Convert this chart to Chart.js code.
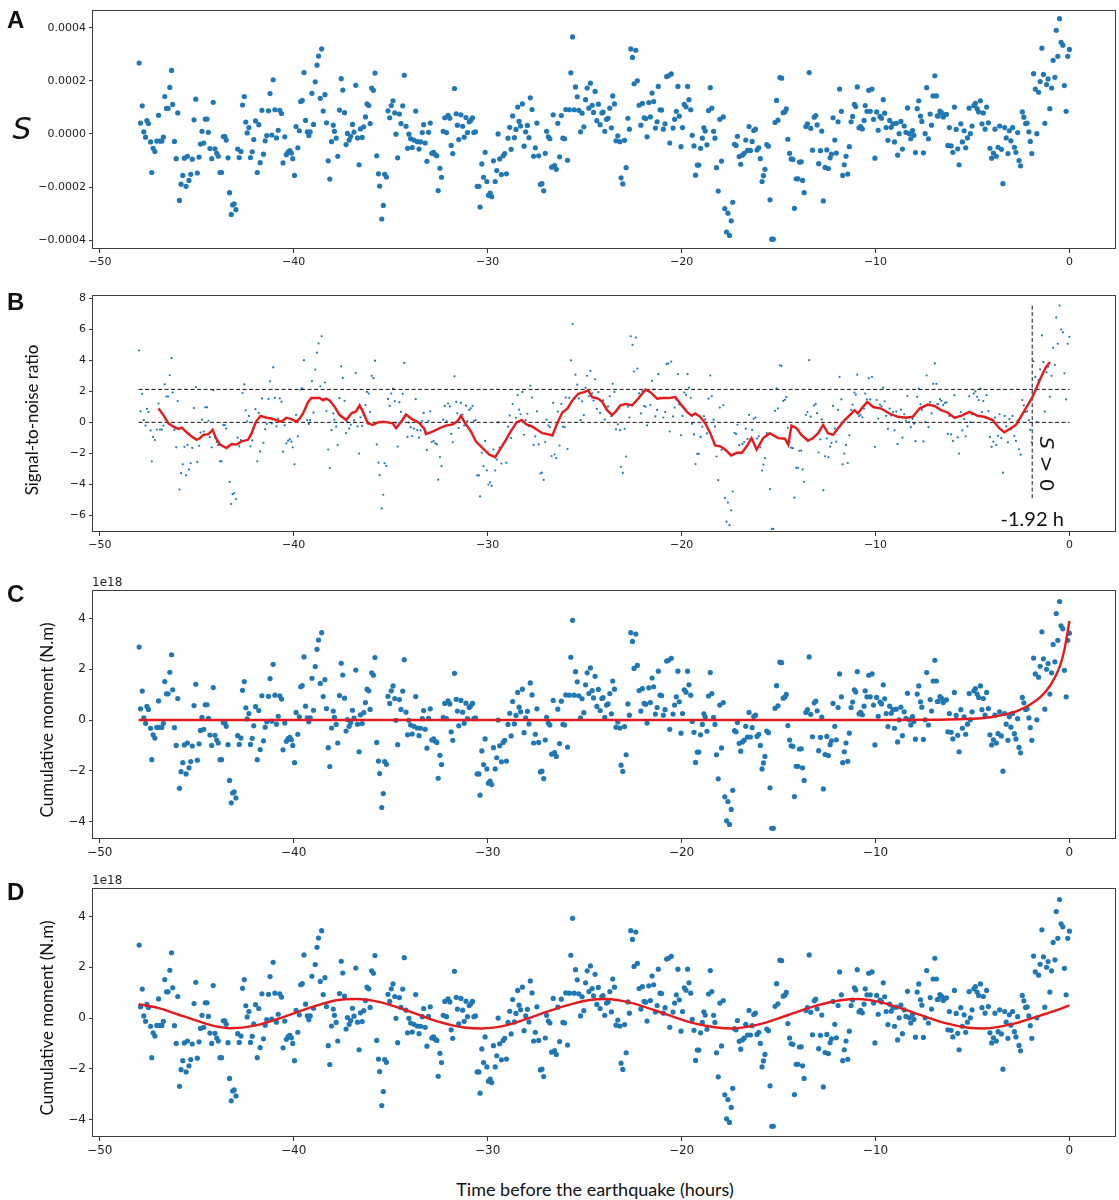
<!DOCTYPE html>
<html>
<head>
<meta charset="utf-8">
<script src="https://cdn.jsdelivr.net/npm/chart.js@4.4.1/dist/chart.umd.min.js"></script>
<style>
  body { margin: 0; background: #fff; }
  #page { position: relative; width: 1119px; height: 1200px; overflow: hidden; }
  canvas { position: absolute; left: 0; }
  .txt { position: absolute; white-space: nowrap; color: #111; line-height: 1; }
  .c { transform: translate(-50%, -50%); }
  .rot { transform: translate(-50%, -50%) rotate(-90deg); }
  .letter { font: bold 24px "Liberation Sans Narrow", "Liberation Sans", sans-serif; }
  .ylab { font-family: Lato, "Open Sans", sans-serif; font-size: 17px; }
  .offset { font-family: "DejaVu Sans", sans-serif; font-size: 12px; color: #222; }
</style>
</head>
<body>
<div id="page">
  <canvas id="panelA" width="1119" height="280" style="top:0px"></canvas>
  <canvas id="panelB" width="1119" height="280" style="top:285px"></canvas>
  <canvas id="panelC" width="1119" height="290" style="top:580px"></canvas>
  <canvas id="panelD" width="1119" height="290" style="top:878px"></canvas>

  <div class="txt letter" style="left:7px;top:6px">A</div>
  <div class="txt letter" style="left:7px;top:288px">B</div>
  <div class="txt letter" style="left:7px;top:580px">C</div>
  <div class="txt letter" style="left:7px;top:878px">D</div>

  <div class="txt c" style="left:22px;top:128px;font:italic 30px 'DejaVu Sans',sans-serif">S</div>
  <div class="txt rot ylab" style="left:31px;top:420px">Signal-to-noise ratio</div>
  <div class="txt rot ylab" style="left:46px;top:720px">Cumulative moment (N.m)</div>
  <div class="txt rot ylab" style="left:46px;top:1018px">Cumulative moment (N.m)</div>

  <div class="txt offset" style="left:92px;top:576px">1e18</div>
  <div class="txt offset" style="left:92px;top:874px">1e18</div>

  <div class="txt c" style="left:595px;top:1189px;font:18px Lato,sans-serif">Time before the earthquake (hours)</div>

  <div id="onsetLabel" class="txt c" style="font:20px Lato,sans-serif">-1.92 h</div>
  <div id="onsetSign" class="txt" style="font:20px 'DejaVu Sans',sans-serif;transform:translate(-50%,-50%) rotate(90deg)"><i>S</i> &gt; 0</div>
</div>

<script>
// ---- time of each sample (hours before the earthquake) ----
const sHours = [
  -47.97,-47.90,-47.81,-47.73,-47.64,-47.57,-47.49,-47.38,-47.32,-47.25,
  -47.16,-47.06,-46.97,-46.90,-46.80,-46.72,-46.65,-46.56,-46.48,-46.39,
  -46.30,-46.24,-46.15,-46.06,-45.98,-45.89,-45.81,-45.72,-45.64,-45.55,
  -45.48,-45.40,-45.31,-45.23,-45.14,-45.05,-44.97,-44.88,-44.81,-44.73,
  -44.64,-44.56,-44.47,-44.40,-44.32,-44.23,-44.15,-44.06,-43.97,-43.89,
  -43.80,-43.72,-43.63,-43.55,-43.48,-43.39,-43.31,-43.22,-43.15,-43.07,
  -42.98,-42.89,-42.81,-42.72,-42.64,-42.55,-42.47,-42.40,-42.31,-42.23,
  -42.14,-42.06,-41.97,-41.88,-41.80,-41.73,-41.64,-41.56,-41.47,-41.39,
  -41.30,-41.22,-41.13,-41.06,-40.97,-40.89,-40.80,-40.72,-40.63,-40.55,
  -40.46,-40.38,-40.29,-40.20,-40.12,-40.05,-39.96,-39.88,-39.79,-39.71,
  -39.64,-39.56,-39.47,-39.39,-39.30,-39.22,-39.15,-39.06,-38.98,-38.89,
  -38.80,-38.72,-38.63,-38.56,-38.48,-38.39,-38.31,-38.22,-38.14,-38.05,
  -37.96,-37.90,-37.81,-37.73,-37.64,-37.55,-37.47,-37.38,-37.30,-37.23,
  -37.14,-37.06,-36.97,-36.89,-36.80,-36.71,-36.63,-36.56,-36.47,-36.39,
  -36.30,-36.22,-36.13,-36.06,-35.98,-35.89,-35.81,-35.72,-35.63,-35.57,
  -35.46,-35.38,-35.31,-35.22,-35.14,-35.05,-34.97,-34.88,-34.79,-34.73,
  -34.64,-34.55,-34.47,-34.38,-34.30,-34.21,-34.13,-34.06,-33.97,-33.89,
  -33.80,-33.71,-33.63,-33.54,-33.46,-33.37,-33.30,-33.22,-33.13,-33.05,
  -32.96,-32.88,-32.79,-32.70,-32.62,-32.55,-32.46,-32.38,-32.29,-32.21,
  -32.12,-32.04,-31.95,-31.88,-31.80,-31.71,-31.62,-31.56,-31.49,
  -31.38,-31.29,-31.21,-31.12,-31.04,-30.95,-30.87,-30.78,-30.71,-30.63,
  -30.54,-30.45,-30.39,-30.30,-30.21,-30.13,-30.04,-29.96,-29.87,-29.79,
  -29.70,-29.61,-29.53,-29.46,-29.38,-29.29,-29.20,-29.12,-29.03,-28.95,
  -28.86,-28.79,-28.71,-28.62,-28.54,-28.45,-28.38,-28.30,-28.21,-28.12,
  -28.04,-27.95,-27.87,-27.80,-27.71,-27.63,-27.54,-27.46,-27.37,-27.28,
  -27.20,-27.11,-27.03,-26.96,-26.87,-26.79,-26.70,-26.62,-26.55,-26.46,
  -26.38,-26.29,-26.20,-26.12,-26.03,-25.97,-25.88,-25.79,-25.71,-25.62,
  -25.54,-25.47,-25.38,-25.30,-25.21,-25.13,-25.04,-24.95,-24.87,-24.78,
  -24.70,-24.61,-24.54,-24.46,-24.37,-24.29,-24.20,-24.11,-24.05,-23.96,
  -23.87,-23.79,-23.70,-23.62,-23.55,-23.46,-23.38,-23.29,
  -23.18,-23.12,-23.03,-22.94,-22.86,-22.77,-22.69,-22.62,-22.53,-22.45,
  -22.36,-22.28,-22.19,-22.10,-22.02,-21.93,-21.85,-21.78,-21.69,-21.61,
  -21.52,-21.44,-21.35,-21.26,-21.20,-21.11,-21.03,-20.94,-20.85,-20.77,
  -20.68,-20.61,-20.53,-20.44,-20.36,-20.27,-20.19,-20.12,-20.03,-19.95,
  -19.86,-19.77,-19.69,-19.62,-19.53,-19.45,-19.36,-19.28,-19.19,-19.11,
  -19.02,-18.93,-18.85,-18.78,-18.69,-18.61,-18.52,-18.44,-18.35,-18.28,
  -18.20,-18.11,-18.03,-17.94,-17.85,-17.77,-17.68,-17.61,-17.53,-17.44,
  -17.36,-17.27,-17.19,-17.12,-17.03,-16.95,-16.86,-16.77,-16.69,-16.60,
  -16.52,-16.45,-16.36,-16.28,-16.19,-16.11,-16.02,-15.94,-15.85,-15.78,
  -15.70,-15.61,-15.52,-15.44,-15.35,-15.27,-15.18,-15.10,-15.03,
  -14.93,-14.84,-14.76,-14.67,-14.60,-14.52,-14.43,-14.35,-14.26,-14.18,
  -14.09,-14.00,-13.92,-13.83,-13.76,-13.68,-13.59,-13.51,-13.42,-13.34,
  -13.25,-13.16,-13.08,-13.01,-12.93,-12.84,-12.77,-12.69,-12.60,-12.51,
  -12.43,-12.34,-12.27,-12.19,-12.10,-12.02,-11.93,-11.85,-11.76,-11.69,
  -11.61,-11.52,-11.43,-11.35,-11.26,-11.18,-11.09,-11.02,-10.94,-10.85,
  -10.77,-10.68,-10.59,-10.53,-10.44,-10.35,-10.27,-10.18,-10.10,-10.03,
  -9.94,-9.86,-9.77,-9.69,-9.60,-9.53,-9.45,-9.36,-9.27,-9.19,
  -9.10,-9.02,-8.93,-8.86,-8.78,-8.69,-8.61,-8.52,-8.43,-8.35,
  -8.26,-8.18,-8.09,-8.02,-7.94,-7.85,-7.77,-7.68,-7.61,-7.53,
  -7.44,-7.36,-7.27,-7.18,-7.11,-7.03,-6.94,-6.86,-6.81,
  -6.77,-6.68,-6.60,-6.51,-6.43,-6.34,-6.27,-6.19,-6.10,-6.01,
  -5.93,-5.84,-5.76,-5.69,-5.60,-5.52,-5.43,-5.35,-5.26,-5.17,
  -5.11,-5.02,-4.93,-4.85,-4.76,-4.68,-4.59,-4.51,-4.44,-4.35,
  -4.27,-4.18,-4.10,-4.01,-3.92,-3.84,-3.77,-3.68,-3.60,-3.51,
  -3.43,-3.34,-3.26,-3.17,-3.10,-3.02,-2.93,-2.84,-2.76,-2.67,
  -2.60,-2.52,-2.43,-2.35,-2.26,-2.18,-2.09,-2.02,-1.94,-1.85,
  -1.76,-1.68,-1.59,-1.51,-1.42,-1.34,-1.27,-1.18,-1.10,-1.01,
  -0.92,-0.84,-0.75,-0.68,-0.60,-0.51,-0.43,-0.34,-0.26,-0.17,
  -0.09,0.00
];

// ---- S of each sample, in units of 1e-4 (panel A) ----
const sValues = [
  2.67,0.41,1.06,0.08,-0.12,0.50,0.39,-0.30,-1.45,-0.54,
  -0.66,-0.27,0.70,-0.27,-0.27,-0.12,1.41,0.96,0.96,1.75,
  2.39,1.11,-0.28,-0.93,0.79,-2.50,-1.89,-1.56,-0.91,-1.97,
  -0.84,-1.75,-1.52,-0.95,0.53,1.31,-1.47,-0.87,-0.38,0.10,
  -0.34,0.56,0.56,0.06,-0.55,-0.93,1.19,-0.56,-0.73,-0.84,
  -1.45,-1.45,-0.10,-0.10,-0.23,-0.90,-2.21,-3.03,-2.67,-2.63,
  -2.85,-0.57,-0.89,-0.66,1.09,1.41,0.45,0.04,0.24,-0.89,
  -0.67,-0.21,0.49,-1.45,0.35,-1.08,0.89,-0.76,-0.26,-0.06,
  0.87,1.52,-0.04,2.04,0.91,-0.15,0.14,0.89,0.77,-1.09,
  -0.11,-0.78,-0.68,-0.63,-0.72,-0.93,-1.56,0.28,-0.52,0.12,
  1.22,1.26,2.31,0.51,0.08,-0.06,0.08,1.53,0.36,1.96,
  2.59,2.93,1.34,3.20,0.86,1.48,0.42,-1.01,-1.70,-0.29,
  0.33,0.10,-0.16,-0.84,0.90,2.08,1.65,0.80,-0.40,0.02,
  -0.23,-0.09,0.36,0.07,1.83,-0.15,-1.16,0.19,-0.13,0.27,
  0.64,1.13,1.07,0.39,1.73,1.64,2.29,-0.82,-1.50,-1.96,
  -3.20,-2.69,-1.52,-1.62,0.87,0.61,1.07,1.25,0.79,-0.01,
  -0.90,0.75,0.39,1.06,2.21,0.29,-0.54,-0.01,-0.18,-0.51,
  -0.23,0.86,-0.29,-0.57,-0.30,0.05,0.35,-0.34,-1.03,0.06,
  0.41,-0.73,-0.69,-0.78,-0.82,-2.13,-1.29,-1.63,0.10,0.61,
  0.05,0.70,0.59,-0.43,-0.74,1.71,0.76,0.33,-0.21,
  0.72,0.29,-0.12,0.62,0.05,0.46,0.52,0.61,0.05,0.08,
  -1.97,-1.97,-2.75,-1.13,-1.63,-0.69,-1.79,-2.31,-2.23,-2.36,
  -1.01,-1.79,-1.38,0.00,-0.94,-1.53,-0.82,-0.74,-1.50,-0.16,
  0.25,-0.58,0.68,-0.14,0.17,1.01,0.47,0.30,1.13,-0.46,
  0.08,0.32,-0.14,1.36,0.92,-0.84,-0.52,0.41,-0.82,-1.90,
  -1.87,-2.14,-0.73,0.10,-0.11,-0.18,-1.25,0.72,-1.19,-1.33,
  0.40,-0.86,0.69,-0.16,-0.18,0.92,-0.99,0.91,2.30,3.65,
  0.91,1.77,1.40,0.89,0.08,0.78,0.27,1.29,1.73,0.97,
  1.91,1.08,0.81,1.60,0.50,1.12,0.35,0.79,0.82,0.10,
  0.55,0.59,0.97,0.23,1.43,1.13,-0.26,-0.07,
  -0.29,-1.65,-1.88,-0.24,-1.27,0.59,0.18,3.20,2.88,1.89,
  3.15,2.00,1.08,0.33,1.15,0.61,0.58,-0.11,1.18,0.64,
  1.54,1.22,0.22,0.46,1.79,0.91,0.90,0.18,0.38,2.16,
  2.19,-0.34,2.26,0.22,0.55,0.85,1.79,0.67,-0.48,0.24,
  1.11,1.02,1.79,1.29,0.91,-0.05,-0.45,-1.55,-1.17,-1.17,
  -0.54,-0.16,0.23,0.11,-0.41,0.88,1.74,0.97,0.10,-0.16,
  -1.27,-2.15,0.55,-1.02,0.64,-2.81,-3.69,-2.98,-3.82,-3.27,
  -2.57,-0.39,-0.43,-0.09,-0.85,-1.14,-0.80,-0.73,-0.23,-0.62,
  0.28,-0.62,-0.28,0.13,0.18,-0.60,-0.52,-0.93,-1.79,-1.57,
  -1.33,-0.40,-0.46,-2.48,-3.96,-3.96,0.43,1.26,0.52,
  2.12,2.10,0.80,0.84,0.94,-0.20,-0.73,-0.94,-0.96,-2.80,
  -1.69,-1.69,-1.06,-1.05,-1.75,-2.21,0.28,0.38,2.31,0.21,
  -0.61,0.63,0.69,0.34,-1.12,-0.63,0.11,-2.52,-1.26,-0.60,
  -1.30,-0.90,-0.76,0.61,-0.23,-0.72,0.46,1.69,0.85,-1.56,
  -1.16,-0.84,-1.51,-0.48,0.46,0.66,1.11,1.03,1.77,0.23,
  0.28,0.19,0.51,1.07,0.85,1.64,0.85,1.69,0.55,-0.91,
  0.83,0.14,0.66,0.59,1.29,0.78,0.24,-0.24,0.51,0.25,
  0.38,-0.30,0.40,-0.80,0.01,0.47,-0.57,0.30,0.06,0.98,
  0.01,-0.18,0.13,-0.05,-0.70,0.95,1.25,0.67,0.47,-0.71,
  0.01,1.74,-0.18,0.75,0.33,1.43,2.19,1.43,0.68,
  0.68,0.86,0.80,0.64,0.72,0.74,-0.43,0.24,-0.45,-0.69,
  1.01,0.17,-0.56,-1.16,0.38,-0.30,0.12,-0.52,-0.15,0.97,
  0.01,0.30,1.07,1.15,0.95,0.83,1.25,0.38,0.79,0.18,
  1.01,0.42,-0.54,-0.91,-0.72,0.18,-0.84,-0.50,0.30,-0.58,
  -1.87,0.24,-0.15,-0.74,0.12,-0.26,0.24,-0.50,-0.69,0.05,
  -1.00,-1.20,0.83,0.63,0.39,0.41,0.08,-0.28,-0.74,2.27,
  1.69,0.01,1.57,1.97,3.23,2.24,0.40,1.86,2.07,0.95,
  1.73,2.77,2.13,3.90,2.92,4.34,3.45,3.34,1.82,0.85,
  2.92,3.18
];

// panels B, C, D re-plot the same samples on other units
const snrPerUnit = 1.74;      // signal-to-noise per 1e-4 of S
const momentPerUnit = 1.075;  // 1e18 N.m per 1e-4 of S

// ---- running mean of the signal-to-noise ratio (red, panel B) ----
const snrAvgHours = [
  -46.97,-46.72,-46.46,-46.20,-45.95,-45.77,-45.52,-45.26,-45.00,-44.83,
  -44.66,-44.40,-44.18,-44.01,-43.80,-43.46,-43.20,-42.95,-42.69,-42.35,
  -42.17,-41.95,-41.71,-41.40,-41.15,-40.89,-40.63,-40.38,-40.12,-39.86,
  -39.69,-39.52,-39.26,-39.09,-38.66,-38.49,-38.32,-38.15,-37.89,-37.63,
  -37.29,-37.03,-36.78,-36.60,-36.43,-36.18,-35.92,-35.66,-35.40,-35.15,
  -34.89,-34.72,-34.46,-34.21,-33.95,-33.69,-33.52,-33.26,-33.18,-32.92,
  -32.75,-32.49,-32.15,-31.80,-31.55,-31.38,-31.12,-30.86,-30.61,-30.26,
  -29.92,-29.61,-29.32,-29.06,-28.81,-28.51,-28.24,-28.00,-27.69,-27.43,
  -27.18,-26.92,-26.66,-26.41,-26.15,-25.89,-25.63,-25.33,-25.04,-24.81,
  -24.61,-24.30,-24.09,-23.84,-23.58,-23.41,-23.15,-22.89,-22.55,-22.21,
  -21.86,-21.61,-21.26,-21.01,-20.67,-20.32,-20.07,-19.72,-19.47,-19.30,
  -19.04,-18.78,-18.52,-18.27,-18.01,-17.75,-17.44,-17.15,-16.89,-16.64,
  -16.39,-16.13,-15.79,-15.45,-15.02,-14.67,-14.50,-14.33,-14.07,-13.82,
  -13.48,-13.22,-12.96,-12.70,-12.45,-12.19,-11.93,-11.59,-11.25,-11.08,
  -10.91,-10.65,-10.42,-10.13,-9.71,-9.28,-8.85,-8.42,-8.08,-7.73,
  -7.31,-6.96,-6.62,-6.28,-5.93,-5.59,-5.16,-4.73,-4.39,-3.96,
  -3.62,-3.36,-3.02,-2.76,-2.51,-2.16,-1.91,-1.65,-1.39,-1.22,
  -1.00
];
const snrAvg = [
  0.89,0.47,-0.06,-0.28,-0.42,-0.34,-0.64,-0.91,-1.13,-1.02,
  -0.81,-0.76,-0.49,-1.02,-1.44,-1.66,-1.40,-1.44,-1.23,-1.13,
  -0.70,0.04,0.42,0.30,0.25,0.15,0.04,0.30,0.21,0.04,
  0.25,0.57,1.32,1.57,1.57,1.42,1.53,1.42,1.00,0.47,
  0.15,0.57,0.72,1.10,0.68,-0.06,-0.17,0.00,0.04,0.00,
  -0.06,-0.38,0.04,0.51,0.25,0.08,-0.06,-0.42,-0.76,-0.64,
  -0.55,-0.38,-0.21,-0.13,0.08,0.42,-0.13,-0.59,-1.23,-1.66,
  -2.08,-2.25,-1.66,-1.13,-0.59,0.00,0.15,-0.13,-0.28,-0.49,
  -0.70,-0.76,-0.85,-0.06,0.64,0.89,1.42,1.85,1.95,2.06,
  1.63,1.53,1.32,0.79,0.47,0.68,1.10,1.19,1.10,1.57,
  2.12,1.95,1.53,1.57,1.57,1.63,1.21,0.68,0.42,0.57,
  0.36,-0.06,-0.70,-1.49,-1.55,-1.76,-2.14,-1.97,-1.97,-1.55,
  -1.02,-1.76,-1.02,-0.70,-1.02,-1.06,-1.44,-0.21,-0.38,-0.81,
  -1.19,-1.02,-0.70,-0.17,-0.70,-0.81,-0.38,0.15,0.57,0.79,
  0.57,1.00,1.32,1.00,0.89,0.57,0.36,0.30,0.36,0.89,
  1.15,1.06,0.79,0.64,0.30,0.42,0.68,0.42,0.36,0.15,
  -0.38,-0.64,-0.38,-0.17,0.36,1.10,1.63,2.38,3.12,3.55,
  3.91
];

// ---- detection thresholds and onset (panel B) ----
const snrThresholds = [0, 2.13];
const thresholdHours = [-48, 0];
const onsetHour = -1.92;
const onsetSnrSpan = [-4.9, 7.6];

// ---- fitted curves (red, panels C and D), 1e18 N.m ----
const growthHours = [-48, -30, -15, -10, -7, -5, -4, -3, -2.5, -2, -1.5, -1, -0.5, -0.25, 0];
const growthFit = [0, 0, 0, 0, 0.01, 0.05, 0.12, 0.28, 0.42, 0.62, 0.9, 1.35, 2.1, 2.8, 3.9];

const cycleHours = [
  -48.0,-47.0,-46.0,-45.0,-44.0,-43.3,-42.0,-40.5,-39.0,-37.8,
  -36.8,-35.5,-34.0,-32.5,-31.2,-30.3,-29.0,-27.5,-26.0,-24.8,
  -23.9,-22.6,-21.0,-19.5,-18.2,-17.4,-16.0,-14.5,-13.0,-11.8,
  -10.9,-9.6,-8.0,-6.5,-5.2,-4.4,-3.0,-1.5,-0.5,0.0
];
const cycleFit = [
  0.55,0.40,0.15,-0.10,-0.33,-0.40,-0.30,0.05,0.45,0.70,
  0.75,0.62,0.25,-0.15,-0.37,-0.41,-0.28,0.10,0.48,0.70,
  0.75,0.60,0.20,-0.18,-0.37,-0.41,-0.25,0.12,0.50,0.70,
  0.75,0.60,0.20,-0.18,-0.38,-0.41,-0.25,0.10,0.35,0.50
];

// ---- axis ticks ----
const hourTicks = [-50, -40, -30, -20, -10, 0];
const strainTicks = [-4, -2, 0, 2, 4];
const snrTicks = [-6, -4, -2, 0, 2, 4, 6, 8];
const momentTicks = [-4, -2, 0, 2, 4];

const BLUE = "#1f77b4";
const RED = "#e41a1c";
const X_MIN = -50.35, X_MAX = 2.35;

function minus(v) {
    return v < 0 ? "\u2212" + Math.abs(v) : String(v);
}

function points(hours, values, k) {
    return values.map((v, i) => ({ x: hours[i], y: v * k }));
}

// box round the plot area, like the matplotlib spines
const frameBox = {
    id: "frameBox",
    afterDraw(chart) {
        const a = chart.chartArea;
        const ctx = chart.ctx;
        ctx.save();
        ctx.strokeStyle = "#3c3c3c";
        ctx.lineWidth = 1;
        ctx.strokeRect(Math.round(a.left) - 0.5, Math.round(a.top) + 0.5,
            Math.round(a.right - a.left) + 1, Math.round(a.bottom - a.top) - 1);
        ctx.restore();
    }
};

function makePanel(id, p) {
    const tickFont = { family: "DejaVu Sans", size: p.tickSize };
    return new Chart(document.getElementById(id), {
        type: "scatter",
        data: { datasets: p.datasets },
        options: {
            responsive: false,
            animation: false,
            devicePixelRatio: 1,
            layout: { padding: { top: p.padTop, right: 2, left: 0, bottom: 0 } },
            plugins: { legend: { display: false }, tooltip: { enabled: false } },
            scales: {
                x: {
                    type: "linear",
                    min: X_MIN,
                    max: X_MAX,
                    afterBuildTicks: s => { s.ticks = hourTicks.map(v => ({ value: v })); },
                    afterFit: s => { s.height = p.xHeight; },
                    ticks: { callback: v => minus(v), font: tickFont, color: "#222", padding: 3, autoSkip: false, maxRotation: 0 },
                    grid: { drawOnChartArea: false, drawTicks: true, tickLength: 4, color: "#333" },
                    border: { display: false }
                },
                y: {
                    type: "linear",
                    min: p.yMin,
                    max: p.yMax,
                    afterBuildTicks: s => { s.ticks = p.yTicks.map(v => ({ value: v })); },
                    afterFit: s => { s.width = 93; },
                    ticks: { callback: p.yFormat, font: tickFont, color: "#222", padding: 3, autoSkip: false },
                    grid: { drawOnChartArea: false, drawTicks: true, tickLength: 4, color: "#333" },
                    border: { display: false }
                }
            }
        },
        plugins: [frameBox]
    });
}

function dots(data, r) {
    return { data: data, pointRadius: r, pointBackgroundColor: BLUE, pointBorderWidth: 0, order: 2 };
}

function redLine(data, smooth) {
    return {
        data: data, showLine: true, pointRadius: 0, borderColor: RED, borderWidth: 2.4,
        fill: false, tension: 0, cubicInterpolationMode: smooth ? "monotone" : "default", order: 0
    };
}

function dashed(data) {
    return {
        data: data, showLine: true, pointRadius: 0, borderColor: "#111", borderWidth: 1,
        borderDash: [4, 2.5], fill: false, order: 1
    };
}

// ================= A =================
makePanel("panelA", {
    padTop: 2, xHeight: 31, tickSize: 11,
    yMin: -4.33, yMax: 4.68, yTicks: strainTicks,
    yFormat: v => (v < 0 ? "\u2212" : "") + (Math.abs(v) * 1e-4).toFixed(4),
    datasets: [dots(points(sHours, sValues, 1), 2.6)]
});

// ================= B =================
const chartB = makePanel("panelB", {
    padTop: 6, xHeight: 33, tickSize: 11,
    yMin: -7.09, yMax: 8.26, yTicks: snrTicks,
    yFormat: v => minus(v),
    datasets: [
        redLine(points(snrAvgHours, snrAvg, 1), false),
        dashed(thresholdHours.map(h => ({ x: h, y: snrThresholds[0] }))),
        dashed(thresholdHours.map(h => ({ x: h, y: snrThresholds[1] }))),
        dashed(onsetSnrSpan.map(v => ({ x: onsetHour, y: v }))),
        dots(points(sHours, sValues, snrPerUnit), 1.1)
    ]
});

// ================= C =================
makePanel("panelC", {
    padTop: 10, xHeight: 31, tickSize: 12,
    yMin: -4.68, yMax: 5.11, yTicks: momentTicks,
    yFormat: v => minus(v),
    datasets: [
        redLine(points(growthHours, growthFit, 1), true),
        dots(points(sHours, sValues, momentPerUnit), 2.6)
    ]
});

// ================= D =================
makePanel("panelD", {
    padTop: 10, xHeight: 31, tickSize: 12,
    yMin: -4.68, yMax: 5.11, yTicks: momentTicks,
    yFormat: v => minus(v),
    datasets: [
        redLine(points(cycleHours, cycleFit, 1), true),
        dots(points(sHours, sValues, momentPerUnit), 2.6)
    ]
});

// onset annotations placed with panel B's own scales
const bTop = 285;
const ox = chartB.scales.x.getPixelForValue(onsetHour);
const lab = document.getElementById("onsetLabel");
lab.style.left = ox + "px";
lab.style.top = (bTop + chartB.scales.y.getPixelForValue(-6.2)) + "px";
const sign = document.getElementById("onsetSign");
sign.style.left = (ox + 15) + "px";
sign.style.top = (bTop + chartB.scales.y.getPixelForValue(-2.7)) + "px";
</script>
</body>
</html>
